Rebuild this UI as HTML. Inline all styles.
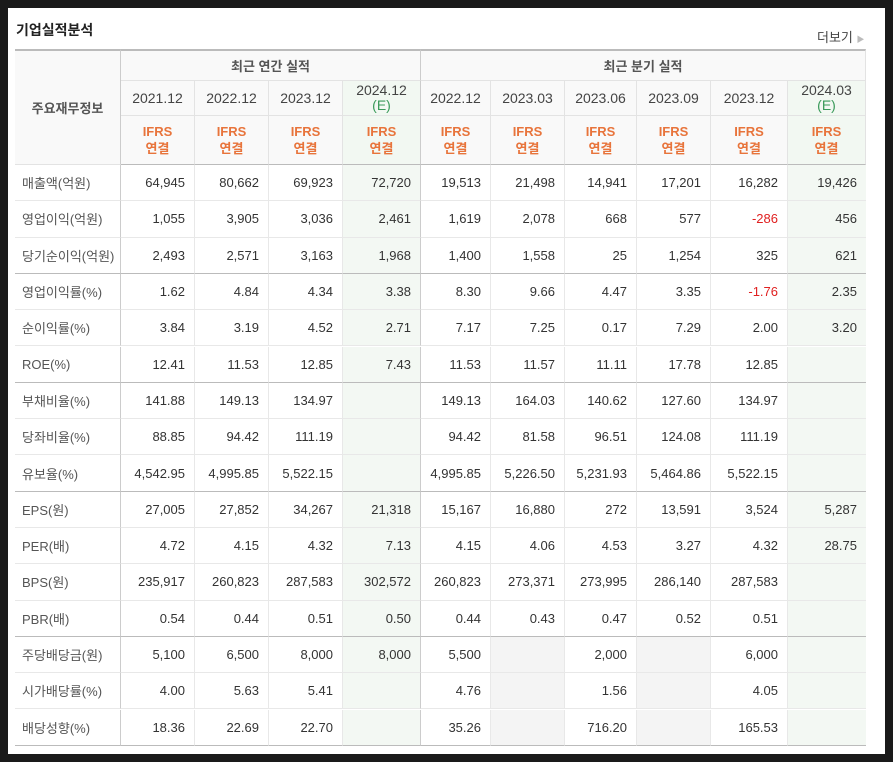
<!DOCTYPE html>
<html><head><meta charset="utf-8">
<style>
body{margin:0;width:893px;height:762px;background:#1a1a1a;overflow:hidden;font-family:"Liberation Sans","Noto Sans CJK KR",sans-serif;}
#panel{position:absolute;left:8px;top:8px;width:877px;height:746px;background:#fff;}
.c{position:absolute;box-sizing:border-box;font-size:13px;color:#333;display:flex;align-items:center;}
#title{position:absolute;left:16px;top:20px;font-size:14px;font-weight:bold;color:#222;}
#more{position:absolute;left:817px;top:27px;font-size:13px;color:#444;}
</style></head><body>
<div id="panel"></div>
<div id="title">기업실적분석</div>
<div id="more">더보기 <span style="color:#bbb;font-size:8px">▶</span></div>
<div id="tbl"></div>
<script>
const periods=['2021.12','2022.12','2023.12','2024.12','2022.12','2023.03','2023.06','2023.09','2023.12','2024.03'];
const estimate=[false,false,false,true,false,false,false,false,false,true];
const labels=['매출액(억원)','영업이익(억원)','당기순이익(억원)','영업이익률(%)','순이익률(%)','ROE(%)','부채비율(%)','당좌비율(%)','유보율(%)','EPS(원)','PER(배)','BPS(원)','PBR(배)','주당배당금(원)','시가배당률(%)','배당성향(%)'];
const values=[
['64,945','80,662','69,923','72,720','19,513','21,498','14,941','17,201','16,282','19,426'],
['1,055','3,905','3,036','2,461','1,619','2,078','668','577','-286','456'],
['2,493','2,571','3,163','1,968','1,400','1,558','25','1,254','325','621'],
['1.62','4.84','4.34','3.38','8.30','9.66','4.47','3.35','-1.76','2.35'],
['3.84','3.19','4.52','2.71','7.17','7.25','0.17','7.29','2.00','3.20'],
['12.41','11.53','12.85','7.43','11.53','11.57','11.11','17.78','12.85',''],
['141.88','149.13','134.97','','149.13','164.03','140.62','127.60','134.97',''],
['88.85','94.42','111.19','','94.42','81.58','96.51','124.08','111.19',''],
['4,542.95','4,995.85','5,522.15','','4,995.85','5,226.50','5,231.93','5,464.86','5,522.15',''],
['27,005','27,852','34,267','21,318','15,167','16,880','272','13,591','3,524','5,287'],
['4.72','4.15','4.32','7.13','4.15','4.06','4.53','3.27','4.32','28.75'],
['235,917','260,823','287,583','302,572','260,823','273,371','273,995','286,140','287,583',''],
['0.54','0.44','0.51','0.50','0.44','0.43','0.47','0.52','0.51',''],
['5,100','6,500','8,000','8,000','5,500','','2,000','','6,000',''],
['4.00','5.63','5.41','','4.76','','1.56','','4.05',''],
['18.36','22.69','22.70','','35.26','','716.20','','165.53','']];
const colX=[15,121,195,269,343,421,491,565,637,711,788,866];
const groupEnds=[2,5,8,12,15];
const T=document.getElementById('tbl');
function cell(x,y,w,h,css,txt){const d=document.createElement('div');d.className='c';d.style.cssText=`left:${x}px;top:${y}px;width:${w}px;height:${h}px;`+css;d.innerHTML=txt;T.appendChild(d);return d;}
// header
const hb='background:#f9f9f9;border-right:1px solid #e3e3e3;border-bottom:1px solid #e3e3e3;justify-content:center;';
let e=cell(15,49,106,116,hb+'border-right:1px solid #ccc;border-top:2px solid #bbb;font-weight:bold;color:#555;','주요재무정보');


e=cell(121,49,300,32,hb+'border-right:1px solid #ccc;border-top:2px solid #bbb;font-weight:bold;color:#555;','최근 연간 실적');


e=cell(421,49,445,32,hb+'border-top:2px solid #bbb;font-weight:bold;color:#555;','최근 분기 실적');


for(let i=0;i<10;i++){
 const x=colX[i+1],w=colX[i+2]-x;
 const bg=estimate[i]?'#f2f8f2':'#f9f9f9';
 const br=(i==3)?'border-right:1px solid #ccc;':'';
 e=cell(x,81,w,35,hb+br+'background:'+bg+';flex-direction:column;font-size:14px;line-height:15px;color:#444;',periods[i]+(estimate[i]?'<span style="color:#3a9a5a">(E)</span>':''));
 
 
 e=cell(x,116,w,49,hb+br+'background:'+bg+';flex-direction:column;font-weight:bold;color:#e8743b;font-size:13px;line-height:17px;border-bottom:1px solid #bbb;','IFRS<span>연결</span>');
 
 
}
const y0=165,rh=36.3;
for(let r=0;r<labels.length;r++){
 const y=y0+r*rh;
 const bb=groupEnds.includes(r)?'border-bottom:1px solid #bbb;':'border-bottom:1px solid #e8e8e8;';
 e=cell(15,y,106,rh,bb+'border-right:1px solid #ccc;padding-left:7px;color:#555;',labels[r]);
 
 
 for(let i=0;i<10;i++){
  const x=colX[i+1],w=colX[i+2]-x;
  const v=values[r][i];
  let bg=estimate[i]?'#f3f8f3':'#fff';
  if(r>=13&&(i==5||i==7))bg='#f4f4f4';
  const br=(i==3)?'border-right:1px solid #ccc;':(i==9?'':'border-right:1px solid #e8e8e8;');
  const col=v.startsWith('-')?'color:#e02020;':'';
  e=cell(x,y,w,rh,bb+br+'background:'+bg+';justify-content:flex-end;padding-right:9px;'+col,v);
  
  
 }
}
</script>
</body></html>
